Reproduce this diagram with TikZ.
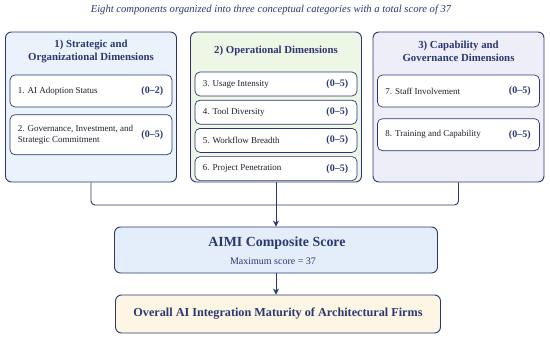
\documentclass[tikz,border=0pt]{standalone}
\usepackage{fontspec}
\setmainfont{Liberation Serif}
\usepackage{tikz}
\usetikzlibrary{arrows.meta,positioning,calc}
\definecolor{navy}{HTML}{2B3870}
\definecolor{ink}{HTML}{1E1E2C}
\definecolor{catblue}{HTML}{EAF2FB}
\definecolor{catgreen}{HTML}{EEF6E5}
\definecolor{catlilac}{HTML}{EEEEF9}
\definecolor{scorefill}{HTML}{E4EEFA}
\definecolor{cream}{HTML}{FDF6E4}

\begin{document}
\begin{tikzpicture}[
  x=1pt, y=-1pt,
  catbox/.style={draw=navy, line width=0.9pt, rounded corners=6pt, minimum width=171pt, minimum height=150pt, inner sep=0pt},
  cattitle/.style={text=navy, align=center, font=\fontsize{10.8}{13}\selectfont\bfseries},
  itembox/.style={draw=navy, line width=0.7pt, fill=white, rounded corners=5pt, minimum width=162pt, inner sep=0pt},
  itemtxt/.style={text=ink, align=left, anchor=west, inner sep=0pt, font=\fontsize{9}{11}\selectfont},
  scoretxt/.style={text=navy, anchor=east, inner sep=0pt, font=\fontsize{10}{11}\selectfont\bfseries},
  bigbox/.style={draw=navy, line width=0.9pt, rounded corners=6pt, inner sep=0pt},
  link/.style={draw=navy, line width=0.9pt},
  arr/.style={-{Stealth[length=6pt, width=6pt]}, navy, line width=0.9pt}
]
\useasboundingbox (0,0) rectangle (550,338);

% Caption
\node[text=navy, font=\fontsize{10.6}{12}\selectfont\itshape] (caption) at (271,10)
  {Eight components organized into three conceptual categories with a total score of 37};

% Categories
\node[catbox, fill=catblue] (cat1) at (91,107) {};
\node[catbox, fill=catgreen] (cat2) at (276,107) {};
\node[catbox, fill=catlilac] (cat3) at (458.5,107) {};

\node[cattitle] (t1) at (91,51.5) {1) Strategic and\\Organizational Dimensions};
\node[cattitle] (t2) at (276,51) {2) Operational Dimensions};
\node[cattitle] (t3) at (458.5,51.5) {3) Capability and\\Governance Dimensions};

% Components, category 1
\node[itembox, minimum height=32pt] (c1) at (91,91) {};
\node[itembox, minimum height=40pt, below=7pt of c1] (c2) {};

% Components, category 2
\node[itembox, minimum height=24pt] (c3) at (276,84) {};
\node[itembox, minimum height=24pt, below=3.5pt of c3] (c4) {};
\node[itembox, minimum height=24pt, below=3.5pt of c4] (c5) {};
\node[itembox, minimum height=24pt, below=3.5pt of c5] (c6) {};

% Components, category 3
\node[itembox, minimum height=32pt] (c7) at (458.5,91) {};
\node[itembox, minimum height=32pt, below=11pt of c7] (c8) {};

% Component labels and ranges
\node[itemtxt] (l1) at ([xshift=8pt]c1.west) {1. AI Adoption Status};
\node[itemtxt] (l2) at ([xshift=8pt]c2.west) {2. Governance, Investment, and\\Strategic Commitment};
\node[itemtxt] (l3) at ([xshift=8pt]c3.west) {3. Usage Intensity};
\node[itemtxt] (l4) at ([xshift=8pt]c4.west) {4. Tool Diversity};
\node[itemtxt] (l5) at ([xshift=8pt]c5.west) {5. Workflow Breadth};
\node[itemtxt] (l6) at ([xshift=8pt]c6.west) {6. Project Penetration};
\node[itemtxt] (l7) at ([xshift=8pt]c7.west) {7. Staff Involvement};
\node[itemtxt] (l8) at ([xshift=8pt]c8.west) {8. Training and Capability};

\node[scoretxt] (s1) at ([xshift=-9pt]c1.east) {(0--2)};
\node[scoretxt] (s2) at ([xshift=-9pt]c2.east) {(0--5)};
\node[scoretxt] (s3) at ([xshift=-9pt]c3.east) {(0--5)};
\node[scoretxt] (s4) at ([xshift=-9pt]c4.east) {(0--5)};
\node[scoretxt] (s5) at ([xshift=-9pt]c5.east) {(0--5)};
\node[scoretxt] (s6) at ([xshift=-9pt]c6.east) {(0--5)};
\node[scoretxt] (s7) at ([xshift=-9pt]c7.east) {(0--5)};
\node[scoretxt] (s8) at ([xshift=-9pt]c8.east) {(0--5)};

% Composite score and outcome
\node[bigbox, fill=scorefill, minimum width=323pt, minimum height=46pt] (aimi) at (276,250) {};
\node[text=navy, font=\fontsize{13.9}{15}\selectfont\bfseries] (aimititle) at (277,243) {AIMI Composite Score};
\node[text=navy, font=\fontsize{10}{11}\selectfont] (aimimax) at (273,261) {Maximum score = 37};
\node[bigbox, fill=cream, minimum width=325pt, minimum height=38pt, text=navy,
  font=\fontsize{12.2}{13}\selectfont\bfseries] (overall) at (278,314)
  {Overall AI Integration Maturity of Architectural Firms};

% Connectors
\coordinate (join) at (276,205);
\draw[link, rounded corners=4pt] (cat1.south) |- (join) -| (cat3.south);
\draw[link] (cat2.south) -- (join);
\draw[arr] (join) -- (aimi.north);
\draw[arr] (aimi.south) -- (aimi.south |- overall.north);

\end{tikzpicture}
\end{document}
